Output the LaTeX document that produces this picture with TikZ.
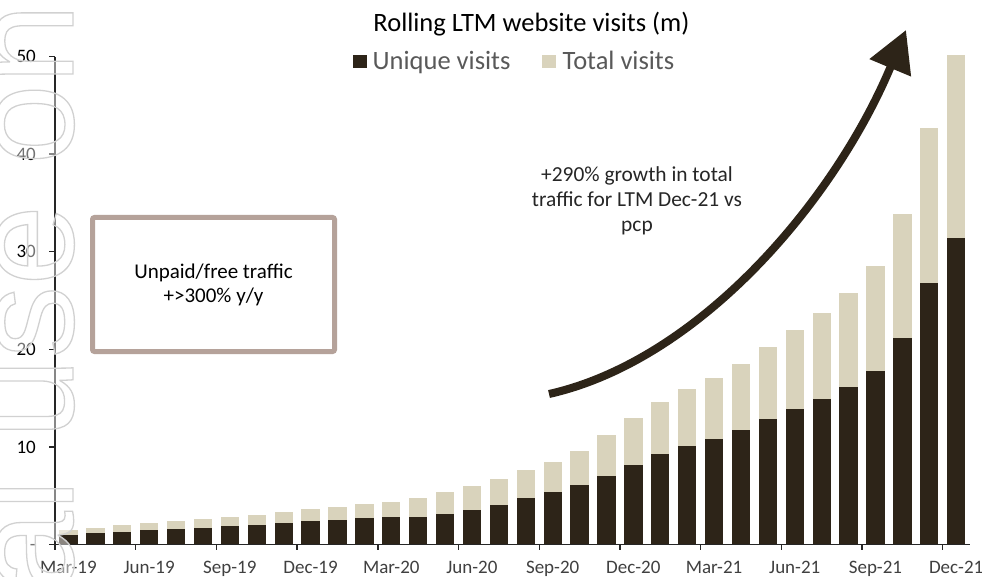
\documentclass[tikz,border=0pt]{standalone}
\usepackage{fontspec}
\setmainfont{Carlito}
\newfontfamily\wmfont{Liberation Sans}
\usetikzlibrary{arrows.meta}

\definecolor{uniquec}{HTML}{2D2418}
\definecolor{totalc}{HTML}{D9D3BC}
\definecolor{boxedge}{HTML}{B5A29A}
\definecolor{legendgray}{HTML}{595959}
\definecolor{axisc}{HTML}{262626}
\definecolor{xlabc}{HTML}{404040}

% stroked (outline-only) text for the watermark
\newcommand\outlinetext[1]{%
  \special{pdf:literal direct 1 Tr 1.3 w 0.82 0.82 0.82 RG}#1%
  \special{pdf:literal direct 0 Tr}}

\tikzset{
  axisline/.style={draw=axisc, line width=1.4pt},
  ticklab/.style={font=\fontsize{19}{22}\selectfont, text=black, inner sep=0pt, anchor=base east},
  catlab/.style={font=\fontsize{19}{22}\selectfont, text=xlabc, inner sep=0pt, anchor=base},
  legendtxt/.style={font=\fontsize{26.5}{30}\selectfont, text=legendgray, inner sep=0pt, anchor=base west},
  notetxt/.style={align=center, text=axisc, inner sep=0pt, font=\fontsize{21.4}{25}\selectfont},
  growtharrow/.style={draw=uniquec, line width=8pt, -{Triangle[length=41pt,width=43pt]}},
  wmtext/.style={rotate=90, anchor=base west, inner sep=0pt, font=\wmfont\fontsize{145}{145}\selectfont},
}

\begin{document}
\begin{tikzpicture}[x=1pt, y=-1pt]
\useasboundingbox[fill=white] (0,0) rectangle (982,577);

% stacked monthly bars: unique visits / total visits (m)
\foreach \u/\t [count=\i from 0] in {
  0.97/1.49, 1.18/1.72, 1.31/2.0, 1.49/2.2, 1.62/2.4, 1.72/2.61,
  1.86/2.82, 1.96/2.99, 2.2/3.33, 2.41/3.64, 2.54/3.87, 2.75/4.15,
  2.8/4.35, 2.85/4.74, 3.17/5.39, 3.55/6.0, 4.05/6.7, 4.74/7.6,
  5.39/8.5, 6.10/9.61, 7.05/11.25, 8.15/12.93, 9.24/14.57, 10.09/15.9,
  10.84/17.06, 11.76/18.49, 12.86/20.27, 13.88/21.98, 14.87/23.69, 16.1/25.8,
  17.78/28.5, 21.19/33.9, 26.83/42.7, 31.37/50.2} {
  \pgfmathsetmacro\xl{59.3+26.9*\i}
  \fill[totalc] (\xl,544.5) rectangle ({\xl+18.3},{544.5-9.76*\t});
  \fill[uniquec] (\xl,544.5) rectangle ({\xl+18.3},{544.5-9.76*\u});
}

% axes
\draw[axisline] (55,56.7) -- (55,544.5) -- (970,544.5);
\foreach \v/\lab in {0/-,10/10,20/20,30/30,40/40,50/50} {
  \draw[axisline] (49,{544.5-9.76*\v}) -- (55,{544.5-9.76*\v});
  \node[ticklab] (ylab\v) at (36,{550.7-9.76*\v}) {\lab};
}
\foreach \lab [count=\k from 0] in {Mar-19,Jun-19,Sep-19,Dec-19,Mar-20,Jun-20,
  Sep-20,Dec-20,Mar-21,Jun-21,Sep-21,Dec-21} {
  \draw[axisline] ({55+80.7*\k},544.5) -- ({55+80.7*\k},550);
  \node[catlab] (xlab\k) at ({68.45+80.7*\k},573.5) {\lab};
}

% title and legend
\node[font=\fontsize{26.5}{30}\selectfont, inner sep=0pt, anchor=base] (title) at (531.5,32) {Rolling LTM website visits (m)};
\fill[uniquec] (353,55) rectangle (367,68);
\node[legendtxt] (leguniq) at (372.5,70) {Unique visits};
\fill[totalc] (542,55) rectangle (556,68);
\node[legendtxt] (legtotal) at (562.5,70) {Total visits};

% call-out box
\node[draw=boxedge, line width=5pt, rounded corners=2pt, minimum width=242pt, minimum height=134pt, inner sep=0pt] (freebox) at (213.5,284.5) {};
\node[notetxt, font=\fontsize{21}{24}\selectfont, text=black] (freetxt) at (freebox.center) {Unpaid/free traffic\\+>300\% y/y};

% growth annotation and arrow
\node[notetxt] (growthnote) at (637,200.5) {+290\% growth in total\\traffic for LTM Dec-21 vs\\pcp};
\coordinate (arrowstart) at (549,394);
\coordinate (arrowtip) at (906,30);
\draw[growtharrow] (arrowstart) .. controls (700,360) and (835,200) .. (arrowtip);

% outlined watermark along the left edge
\node[wmtext, text=white, text opacity=0.45] (wmfill) at (73,1293) {For personal use only};
\node[wmtext] (wmline) at (73,1293) {\outlinetext{For personal use only}};
\end{tikzpicture}
\end{document}
